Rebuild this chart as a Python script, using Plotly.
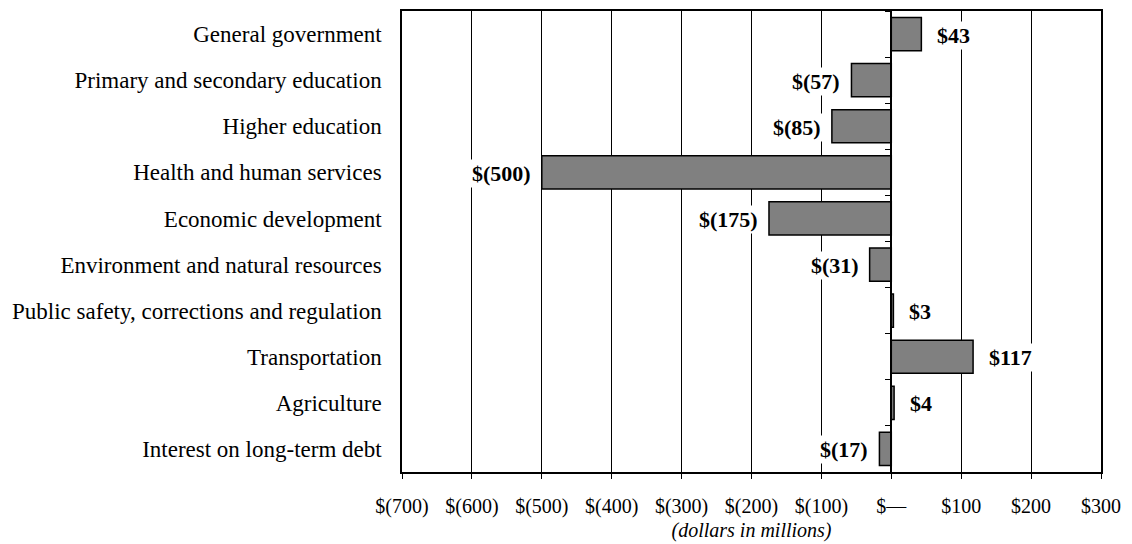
import plotly.graph_objects as go

categories = [
    "General government",
    "Primary and secondary education",
    "Higher education",
    "Health and human services",
    "Economic development",
    "Environment and natural resources",
    "Public safety, corrections and regulation",
    "Transportation",
    "Agriculture",
    "Interest on long-term debt",
]
values = [43, -57, -85, -500, -175, -31, 3, 117, 4, -17]

tick_vals = [-700, -600, -500, -400, -300, -200, -100, 0, 100, 200, 300]
tick_text = ["$(700)", "$(600)", "$(500)", "$(400)", "$(300)", "$(200)",
             "$(100)", "$\u2014", "$100", "$200", "$300"]

FONT = "Liberation Serif, Times New Roman, serif"


def fmt(v):
    return f"${v}" if v >= 0 else f"$({-v})"


fig = go.Figure()
fig.add_trace(go.Bar(
    x=values, y=categories, orientation="h",
    marker=dict(color="#808080", line=dict(color="black", width=1.5)),
    showlegend=False, hoverinfo="skip",
))

annotations = []
for c, v in zip(categories, values):
    annotations.append(dict(
        x=v, y=c, xref="x", yref="y", text=f"<b>{fmt(v)}</b>",
        showarrow=False, xanchor="left" if v >= 0 else "right",
        xshift=14 if v >= 0 else -9, yshift=-1,
        bgcolor="white", borderpad=1,
        font=dict(family=FONT, size=22, color="black"),
    ))

xmin, xmax = tick_vals[0], tick_vals[-1]
n = len(categories)

fig.update_layout(
    width=1124, height=536,
    margin=dict(l=394, r=31, t=1, b=72),
    paper_bgcolor="white", plot_bgcolor="white",
    bargap=0.28,
    font=dict(family=FONT, size=22, color="black"),
    annotations=annotations,
    xaxis=dict(
        range=[xmin, xmax], tickvals=tick_vals, ticktext=tick_text,
        showgrid=True, gridcolor="black", gridwidth=1.3,
        zeroline=False, showline=True, linecolor="black", linewidth=1.5,
        mirror=True, ticks="outside", ticklen=5, tickcolor="black",
        tickwidth=1.3, ticklabelstandoff=10,
        tickfont=dict(family=FONT, size=20),
        title=dict(text="<i>(dollars in millions)</i>", standoff=6,
                   font=dict(family=FONT, size=20)),
        fixedrange=True,
    ),
    yaxis=dict(
        autorange="reversed", showgrid=False, showline=True,
        linecolor="black", linewidth=1.5, mirror=True, ticks="",
        ticklabelstandoff=14, tickfont=dict(family=FONT, size=23),
        fixedrange=True,
    ),
    yaxis2=dict(
        overlaying="y", anchor="free",
        position=(0 - xmin) / (xmax - xmin),
        range=[n - 0.5, -0.5],
        tickvals=[i - 0.5 for i in range(n + 1)],
        showticklabels=False, ticks="outside", ticklen=6,
        tickcolor="black", showline=True, linecolor="black",
        linewidth=1.5, showgrid=False, zeroline=False, fixedrange=True,
    ),
)

# invisible trace to activate yaxis2
fig.add_trace(go.Scatter(x=[None], y=[None], yaxis="y2", showlegend=False,
                         hoverinfo="skip"))

fig.write_html("out.html")
